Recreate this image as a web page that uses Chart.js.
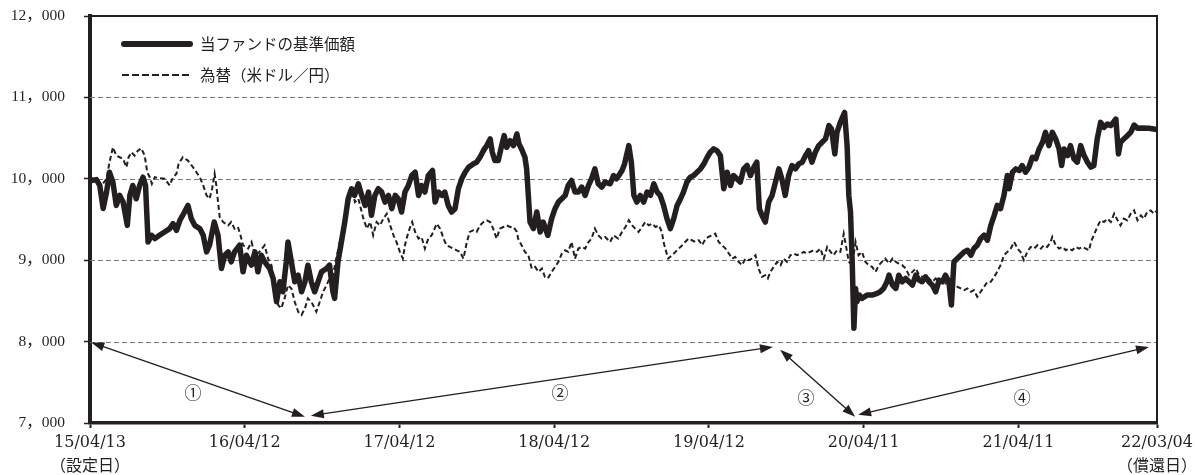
<!DOCTYPE html>
<html>
<head>
<meta charset="utf-8">
<script src="https://cdn.jsdelivr.net/npm/chart.js@4/dist/chart.umd.min.js"></script>
<style>
  html, body { margin: 0; padding: 0; background: #fff; }
  canvas { display: block; }
</style>
</head>
<body>
<canvas id="chart" width="1195" height="475"></canvas>
<script>
// Elapsed days since launch (2015/04/13) and the fund's NAV (launch = 10,000)
const fundDays = [0,3,15,23,31,39,46,54,62,70,78,88,94,101,109,117,125,131,137,145,153,164,176,188,196,204,212,223,231,239,247,259,267,275,282,293,302,310,318,326,333,341,353,361,369,381,389,396,404,412,424,432,440,448,455,463,467,475,483,491,499,507,514,522,530,538,546,558,565,573,577,585,593,601,609,617,624,633,641,649,657,664,672,680,688,696,704,712,720,727,735,743,751,759,767,775,782,790,798,808,814,822,830,837,845,853,861,869,877,885,893,904,912,920,928,936,944,949,955,963,971,977,983,991,999,1007,1012,1018,1026,1030,1034,1038,1046,1054,1062,1069,1080,1089,1097,1105,1113,1121,1128,1136,1144,1152,1160,1168,1176,1183,1191,1199,1207,1215,1227,1235,1242,1250,1255,1261,1271,1277,1283,1290,1298,1306,1314,1322,1330,1338,1345,1353,1361,1369,1377,1385,1393,1400,1408,1416,1424,1432,1440,1448,1456,1463,1471,1479,1487,1495,1503,1511,1518,1526,1534,1542,1550,1558,1566,1573,1579,1585,1593,1601,1609,1617,1625,1632,1640,1648,1656,1664,1672,1680,1688,1695,1703,1711,1719,1727,1735,1743,1749,1757,1762,1770,1780,1786,1790,1794,1798,1802,1806,1809,1815,1821,1833,1845,1857,1864,1872,1880,1885,1893,1901,1908,1916,1924,1932,1940,1948,1956,1963,1971,1979,1987,1995,2003,2011,2018,2026,2032,2038,2046,2054,2062,2070,2078,2085,2093,2101,2109,2117,2125,2133,2140,2148,2156,2160,2164,2168,2176,2184,2192,2199,2207,2215,2223,2231,2239,2247,2254,2262,2270,2278,2286,2292,2298,2306,2313,2321,2329,2337,2345,2353,2361,2368,2376,2384,2392,2400,2408,2420,2426,2431,2439,2447,2455,2463,2471,2482,2498,2517];
const fundNav = [10000,9980,9990,9918,9636,9836,10080,9958,9673,9796,9714,9428,9796,9918,9755,9918,10020,9918,9224,9306,9265,9306,9347,9388,9449,9367,9490,9592,9673,9510,9428,9388,9306,9102,9184,9469,9306,8898,9061,9102,8980,9102,9184,8857,9061,8939,9102,8857,9061,8980,8898,8776,8490,8735,8612,8980,9224,8980,8735,8816,8612,8735,8939,8735,8612,8735,8857,8898,8939,8612,8531,8980,9224,9469,9755,9878,9796,9939,9796,9673,9837,9551,9796,9878,9837,9714,9796,9633,9796,9755,9592,9837,9918,10040,10081,9796,9918,9837,10040,10102,9714,9837,9796,9837,9673,9592,9633,9878,10000,10081,10142,10183,10204,10265,10346,10408,10490,10326,10224,10224,10408,10530,10387,10469,10408,10551,10428,10367,10265,10122,9796,9469,9388,9592,9347,9469,9306,9510,9633,9714,9755,9796,9918,9980,9837,9837,9898,9796,9918,10000,10122,9939,9898,9959,9939,10040,10000,10061,10102,10183,10408,10204,9796,9714,9796,9714,9837,9796,9939,9837,9796,9673,9510,9388,9510,9673,9755,9837,9959,10020,10040,10081,10122,10183,10265,10326,10367,10346,10285,9878,10081,9918,10040,10000,9959,10122,10163,10040,10142,10204,9633,9551,9469,9714,9796,9959,10122,10000,9796,10040,10163,10122,10183,10204,10285,10346,10204,10326,10408,10449,10490,10653,10612,10306,10571,10693,10815,10408,9796,9592,8980,8164,8653,8490,8571,8531,8571,8571,8592,8612,8653,8735,8816,8694,8653,8816,8735,8776,8735,8694,8816,8755,8735,8796,8735,8694,8612,8755,8735,8816,8735,8449,8980,9020,9061,9102,9122,9061,9143,9184,9265,9306,9245,9428,9551,9673,9633,9796,9918,10040,9878,10081,10122,10102,10163,10081,10142,10265,10245,10367,10449,10571,10408,10571,10490,10367,10163,10367,10285,10408,10245,10204,10408,10285,10204,10142,10163,10490,10693,10632,10673,10653,10734,10306,10449,10490,10530,10571,10661,10620,10625,10620,10604];

// Elapsed days since launch and the USD/JPY rate rebased to 10,000 at launch
const fxDays = [0,11,27,39,46,54,62,70,78,86,91,98,105,113,121,129,135,141,146,153,164,176,188,196,204,209,219,231,243,251,259,267,275,282,288,294,298,302,306,314,326,333,341,349,355,361,373,381,389,400,412,420,428,436,444,451,459,467,475,483,491,499,507,514,522,534,542,550,558,565,573,581,589,597,605,613,620,625,633,645,653,661,668,676,684,692,700,708,716,723,731,738,743,751,760,767,775,782,790,798,806,818,826,834,841,849,857,865,873,881,889,896,904,912,920,928,936,944,951,959,967,975,983,991,999,1007,1010,1018,1026,1034,1042,1050,1058,1066,1073,1080,1089,1097,1105,1113,1121,1128,1136,1144,1152,1160,1168,1176,1183,1191,1199,1207,1215,1227,1235,1246,1255,1263,1271,1279,1286,1294,1302,1310,1318,1326,1334,1342,1349,1353,1357,1364,1373,1381,1389,1397,1404,1412,1420,1428,1436,1444,1452,1459,1467,1475,1483,1491,1499,1507,1515,1522,1530,1538,1546,1554,1562,1570,1577,1585,1593,1599,1605,1613,1621,1629,1636,1644,1652,1660,1668,1676,1684,1691,1699,1707,1715,1723,1731,1739,1747,1754,1762,1770,1778,1783,1790,1798,1806,1813,1821,1829,1837,1845,1853,1861,1868,1876,1885,1893,1901,1908,1916,1924,1932,1940,1948,1956,1963,1971,1979,1987,1995,2003,2011,2018,2026,2038,2046,2054,2062,2070,2078,2085,2093,2101,2109,2117,2125,2133,2140,2148,2156,2164,2172,2180,2188,2195,2203,2211,2219,2227,2235,2243,2250,2258,2266,2270,2278,2286,2294,2302,2309,2317,2325,2333,2341,2349,2357,2361,2368,2376,2384,2392,2400,2408,2416,2424,2431,2439,2447,2455,2463,2471,2479,2486,2494,2502,2510,2517];
const fxRate = [10000,9960,9918,10000,10203,10387,10285,10265,10245,10142,10265,10326,10285,10346,10375,10285,10081,10020,9938,10020,10008,10000,9918,10020,10061,10183,10265,10224,10142,10081,10020,9918,9796,9755,9878,10061,9918,9714,9530,9469,9428,9469,9388,9408,9306,9184,9143,9224,9061,9102,9184,9020,8939,8694,8449,8408,8531,8694,8653,8490,8367,8327,8408,8531,8490,8367,8490,8612,8694,8776,8816,9020,9224,9388,9633,9796,9837,9714,9755,9510,9388,9469,9306,9469,9428,9510,9571,9428,9306,9224,9102,9020,9184,9347,9469,9347,9265,9286,9143,9265,9306,9449,9388,9265,9184,9163,9143,9122,9102,9020,9224,9347,9367,9347,9428,9469,9490,9469,9388,9265,9388,9408,9428,9408,9408,9347,9265,9184,9102,9061,8898,8918,8857,8898,8796,8776,8857,8918,8980,9082,9122,9102,9224,9020,9143,9163,9143,9224,9265,9388,9306,9265,9286,9224,9306,9265,9347,9408,9490,9428,9388,9347,9408,9469,9428,9449,9408,9428,9347,9224,9143,9020,9061,9102,9143,9184,9224,9265,9245,9224,9245,9184,9265,9286,9306,9326,9224,9184,9143,9082,9020,9041,8980,8939,9020,9000,9020,9061,8898,8796,8816,8776,8857,8918,8980,8939,9020,8980,9061,9082,9061,9082,9102,9082,9102,9122,9102,9143,9020,9163,9102,9061,9122,9102,9326,9184,8980,8939,9224,9061,9102,8980,8939,8918,8857,8939,8980,9020,8960,9020,8980,8959,8939,8898,8816,8857,8898,8816,8796,8755,8776,8735,8776,8735,8755,8714,8755,8673,8673,8653,8633,8653,8612,8633,8551,8612,8673,8735,8735,8796,8857,8939,9061,9102,9143,9224,9143,9102,9000,9102,9163,9143,9184,9143,9184,9163,9224,9286,9184,9143,9163,9122,9143,9122,9163,9143,9163,9143,9122,9224,9306,9408,9490,9469,9510,9469,9571,9490,9428,9510,9490,9571,9612,9490,9551,9510,9592,9612,9571,9612];

const seriesNames = ['当ファンドの基準価額', '為替（米ドル／円）'];

// X axis: tick positions (elapsed days) and their labels
const xTickDays = [0, 365, 730, 1095, 1460, 1825, 2190, 2517];
const xTickLabels = [['15/04/13', '（設定日）'], '16/04/12', '17/04/12', '18/04/12', '19/04/12', '20/04/11', '21/04/11', ['22/03/04', '（償還日）']];

// Y axis range
const yMin = 7000, yMax = 12000, yStep = 1000;

// Period markers: [day, value] at each arrow end, and where each number sits
const periodMarks = ['①', '②', '③', '④'];
const periodFrom = [[3, 7990], [521, 7090], [1628, 7900], [1812, 7100]];
const periodTo = [[507, 7077], [1611, 7935], [1805, 7077], [2498, 7935]];
const periodLabelAt = [[243, 7370], [1109, 7370], [1689, 7310], [2199, 7310]];

const ink = '#231f20';
const cjk = "'Noto Sans CJK JP'";

function fmtThousands(v) {
  return String(v).replace(/\B(?=(\d{3})+(?!\d))/g, '，');
}

function arrowHead(ctx, x0, y0, x1, y1, len, half) {
  const a = Math.atan2(y1 - y0, x1 - x0);
  const c = Math.cos(a), s = Math.sin(a);
  ctx.beginPath();
  ctx.moveTo(x1, y1);
  ctx.lineTo(x1 - len * c + half * s, y1 - len * s - half * c);
  ctx.lineTo(x1 - len * c - half * s, y1 - len * s + half * c);
  ctx.closePath();
  ctx.fill();
}

const decorations = {
  id: 'decorations',
  beforeDatasetsDraw(chart) {
    const { ctx, chartArea: a, scales: { y } } = chart;
    ctx.save();
    ctx.strokeStyle = '#7a7a7a';
    ctx.lineWidth = 1;
    ctx.setLineDash([5, 3]);
    y.ticks.forEach(t => {
      if (t.value <= y.min || t.value >= y.max) return;
      const py = Math.round(y.getPixelForValue(t.value)) + 0.5;
      ctx.beginPath();
      ctx.moveTo(a.left, py);
      ctx.lineTo(a.right, py);
      ctx.stroke();
    });
    ctx.restore();
  },
  afterDraw(chart) {
    const { ctx, chartArea: a, scales: { x, y } } = chart;
    ctx.save();

    // top and right frame
    ctx.strokeStyle = ink;
    ctx.setLineDash([]);
    ctx.lineWidth = 2;
    ctx.beginPath();
    ctx.moveTo(a.left, a.top);
    ctx.lineTo(a.right, a.top);
    ctx.lineTo(a.right, a.bottom);
    ctx.stroke();

    // legend
    const lx0 = a.left + 32, lx1 = a.left + 102, tx = a.left + 110;
    const ly0 = a.top + 28, ly1 = a.top + 59;
    ctx.lineCap = 'round';
    ctx.lineWidth = 6;
    ctx.beginPath(); ctx.moveTo(lx0 + 2, ly0); ctx.lineTo(lx1 - 2, ly0); ctx.stroke();
    ctx.lineCap = 'butt';
    ctx.lineWidth = 2;
    ctx.setLineDash([7, 3]);
    ctx.beginPath(); ctx.moveTo(lx0, ly1); ctx.lineTo(lx1, ly1); ctx.stroke();
    ctx.setLineDash([]);
    ctx.fillStyle = ink;
    ctx.font = '15.5px ' + cjk;
    ctx.textBaseline = 'middle';
    ctx.textAlign = 'left';
    ctx.fillText(seriesNames[0], tx, ly0);
    ctx.fillText(seriesNames[1], tx, ly1);

    // period arrows
    ctx.lineWidth = 1.4;
    periodFrom.forEach((f, i) => {
      const t = periodTo[i];
      const x0 = x.getPixelForValue(f[0]), y0 = y.getPixelForValue(f[1]);
      const x1 = x.getPixelForValue(t[0]), y1 = y.getPixelForValue(t[1]);
      const len = 13, half = 4.5;
      const d = Math.hypot(x1 - x0, y1 - y0);
      const ux = (x1 - x0) / d, uy = (y1 - y0) / d;
      ctx.beginPath();
      ctx.moveTo(x0 + ux * (len - 1), y0 + uy * (len - 1));
      ctx.lineTo(x1 - ux * (len - 1), y1 - uy * (len - 1));
      ctx.stroke();
      arrowHead(ctx, x0, y0, x1, y1, len, half);
      arrowHead(ctx, x1, y1, x0, y0, len, half);
    });

    ctx.font = '17px ' + cjk;
    ctx.textAlign = 'center';
    periodMarks.forEach((m, i) => {
      const p = periodLabelAt[i];
      ctx.fillText(m, x.getPixelForValue(p[0]), y.getPixelForValue(p[1]));
    });

    ctx.restore();
  }
};

const toPoints = (days, vals) => days.map((d, i) => ({ x: d, y: vals[i] }));

new Chart(document.getElementById('chart'), {
  type: 'line',
  data: {
    datasets: [
      {
        label: seriesNames[1],
        data: toPoints(fxDays, fxRate),
        borderColor: ink,
        borderWidth: 2,
        borderDash: [5, 3],
        pointRadius: 0,
        tension: 0,
        order: 2
      },
      {
        label: seriesNames[0],
        data: toPoints(fundDays, fundNav),
        borderColor: ink,
        borderWidth: 5.5,
        borderJoinStyle: 'round',
        borderCapStyle: 'round',
        pointRadius: 0,
        tension: 0,
        order: 1
      }
    ]
  },
  options: {
    responsive: false,
    animation: false,
    devicePixelRatio: 1,
    layout: { padding: { left: 0, right: 38, top: 16, bottom: 0 } },
    plugins: { legend: { display: false }, tooltip: { enabled: false } },
    scales: {
      x: {
        type: 'linear',
        min: xTickDays[0],
        max: xTickDays[xTickDays.length - 1],
        afterBuildTicks: (scale) => { scale.ticks = xTickDays.map(v => ({ value: v })); },
        afterFit: (scale) => { scale.height = 52; scale.paddingLeft = 0; scale.paddingRight = 0; },
        grid: { display: true, drawOnChartArea: false, drawTicks: true, tickLength: 5, tickColor: ink, tickWidth: 2 },
        border: { display: true, color: ink, width: 3.5 },
        ticks: {
          autoSkip: false,
          maxRotation: 0,
          padding: 3,
          color: ink,
          font: { family: "'DejaVu Serif', " + cjk, size: 16, lineHeight: 1.5 },
          callback: (v) => { const i = xTickDays.indexOf(v); return i >= 0 ? xTickLabels[i] : ''; }
        }
      },
      y: {
        min: yMin,
        max: yMax,
        afterFit: (scale) => { scale.width = 90; scale.paddingTop = 0; scale.paddingBottom = 0; },
        grid: { display: true, drawOnChartArea: false, drawTicks: true, tickLength: 6, tickColor: ink, tickWidth: 1.5 },
        border: { display: true, color: ink, width: 4 },
        ticks: {
          stepSize: yStep,
          padding: 19,
          color: ink,
          font: { family: "'Liberation Serif', " + cjk, size: 15.5 },
          callback: (v) => fmtThousands(v)
        }
      }
    }
  },
  plugins: [decorations]
});
</script>
</body>
</html>
